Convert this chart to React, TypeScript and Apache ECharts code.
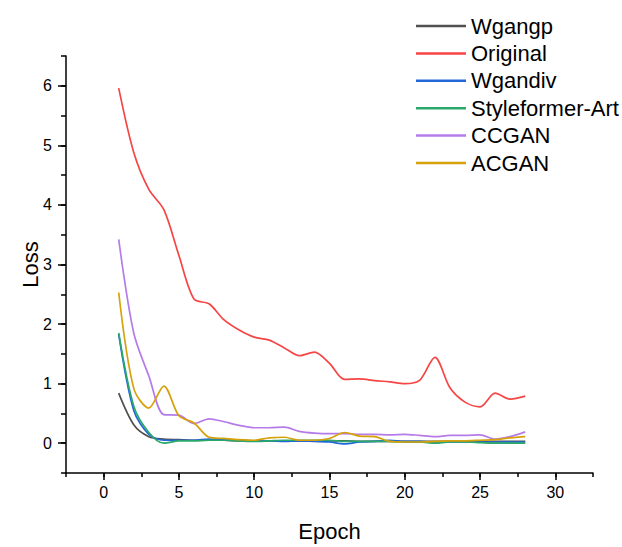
import React, { useEffect, useRef } from "react";
import * as echarts from "echarts";

const epochs = [1, 2, 3, 4, 5, 6, 7, 8, 9, 10, 11, 12, 13, 14, 15, 16, 17, 18, 19, 20, 21, 22, 23, 24, 25, 26, 27, 28];

const seriesNames = ["Wgangp", "Original", "Wgandiv", "Styleformer-Art", "CCGAN", "ACGAN"];
const seriesColors = ["#505050", "#f54545", "#2266d8", "#2aa86b", "#b57be8", "#d6a10a"];

const wgangp = [0.84, 0.31, 0.11, 0.07, 0.06, 0.05, 0.05, 0.05, 0.04, 0.04, 0.04, 0.04, 0.04, 0.04, 0.04, 0.04, 0.03, 0.03, 0.03, 0.03, 0.03, 0.03, 0.03, 0.03, 0.03, 0.03, 0.03, 0.03];
const original = [5.96, 4.88, 4.26, 3.92, 3.15, 2.42, 2.34, 2.07, 1.9, 1.78, 1.73, 1.6, 1.47, 1.53, 1.34, 1.07, 1.08, 1.05, 1.03, 1.0, 1.06, 1.44, 0.93, 0.69, 0.61, 0.84, 0.74, 0.79];
const wgandiv = [1.83, 0.55, 0.15, 0.05, 0.05, 0.05, 0.07, 0.06, 0.05, 0.04, 0.04, 0.03, 0.04, 0.03, 0.02, -0.01, 0.02, 0.03, 0.05, 0.03, 0.03, 0.02, 0.02, 0.02, 0.02, 0.02, 0.02, 0.02];
const styleformer = [1.85, 0.62, 0.18, 0.0, 0.04, 0.04, 0.05, 0.05, 0.04, 0.03, 0.04, 0.05, 0.05, 0.05, 0.05, 0.03, 0.03, 0.03, 0.03, 0.02, 0.02, 0.0, 0.02, 0.02, 0.01, 0.0, 0.0, 0.0];
const ccgan = [3.42, 1.85, 1.13, 0.48, 0.47, 0.33, 0.41, 0.36, 0.3, 0.26, 0.26, 0.27, 0.2, 0.17, 0.16, 0.16, 0.15, 0.15, 0.14, 0.15, 0.13, 0.11, 0.13, 0.13, 0.14, 0.07, 0.11, 0.19];
const acgan = [2.53, 0.92, 0.59, 0.96, 0.46, 0.34, 0.1, 0.08, 0.06, 0.05, 0.09, 0.1, 0.05, 0.05, 0.08, 0.18, 0.12, 0.11, 0.03, 0.02, 0.02, 0.03, 0.04, 0.04, 0.05, 0.06, 0.09, 0.11];

const xMajorTicks = [0, 5, 10, 15, 20, 25, 30];
const yMajorTicks = [0, 1, 2, 3, 4, 5, 6];

const FONT = "'Liberation Sans', Arial, sans-serif";

export default function App() {
  const ref = useRef<HTMLDivElement>(null);

  useEffect(() => {
    document.body.style.margin = "0";
    if (!ref.current) return;
    const chart = echarts.init(ref.current, null, { renderer: "svg" });
    const allValues = [wgangp, original, wgandiv, styleformer, ccgan, acgan];

    const axisLine = { show: true, onZero: false, lineStyle: { color: "#000", width: 1.5 } };

    const option: any = {
      animation: false,
      backgroundColor: "#fff",
      textStyle: { fontFamily: FONT },
      grid: { left: 66, right: 29, top: 56, bottom: 66, containLabel: false },
      legend: {
        orient: "vertical",
        left: 411,
        top: 10,
        itemWidth: 50,
        itemHeight: 2.5,
        itemGap: 5.4,
        icon: "rect",
        data: seriesNames,
        textStyle: { fontSize: 22, color: "#000", fontFamily: FONT },
      },
      xAxis: [
        {
          type: "value",
          min: -2.5,
          max: 32.5,
          interval: 2.5,
          position: "bottom",
          axisLine,
          axisTick: { show: true, inside: false, length: 4, lineStyle: { color: "#000", width: 1.5 } },
          axisLabel: {
            margin: 11,
            fontSize: 16,
            color: "#000",
            fontFamily: FONT,
            formatter: (v: number) => (Math.abs(v % 5) < 1e-9 ? String(v) : ""),
          },
          splitLine: { show: false },
          name: "Epoch",
          nameLocation: "middle",
          nameGap: 47,
          nameMoveOverlap: false,
          nameTextStyle: { fontSize: 22, color: "#000", fontFamily: FONT },
        },
        {
          type: "value",
          min: -2.5,
          max: 32.5,
          interval: 2.5,
          position: "bottom",
          axisLine: { show: false, onZero: false },
          axisTick: { show: true, length: 7, customValues: xMajorTicks, lineStyle: { color: "#000", width: 1.5 } },
          axisLabel: { show: false },
          splitLine: { show: false },
        },
      ],
      yAxis: [
        {
          type: "value",
          min: -0.5,
          max: 6.5,
          interval: 0.5,
          position: "left",
          axisLine,
          axisTick: { show: true, inside: false, length: 5, lineStyle: { color: "#000", width: 1.5 } },
          axisLabel: {
            margin: 14,
            fontSize: 16,
            color: "#000",
            fontFamily: FONT,
            formatter: (v: number) => (Math.abs(v % 1) < 1e-9 ? String(v) : ""),
          },
          splitLine: { show: false },
          name: "Loss",
          nameLocation: "middle",
          nameGap: 25,
          nameMoveOverlap: false,
          nameRotate: 90,
          nameTextStyle: { fontSize: 22, color: "#000", fontFamily: FONT },
        },
        {
          type: "value",
          min: -0.5,
          max: 6.5,
          interval: 0.5,
          position: "left",
          axisLine: { show: false, onZero: false },
          axisTick: { show: true, length: 8, customValues: yMajorTicks, lineStyle: { color: "#000", width: 1.5 } },
          axisLabel: { show: false },
          splitLine: { show: false },
        },
      ],
      series: seriesNames.map((name, i) => ({
        name,
        type: "line",
        xAxisIndex: 0,
        yAxisIndex: 0,
        smooth: 0.3,
        symbol: "none",
        showSymbol: false,
        color: seriesColors[i],
        lineStyle: { width: 1.7, color: seriesColors[i] },
        data: epochs.map((e, j) => [e, allValues[i][j]]),
      })),
    };

    chart.setOption(option);
    return () => chart.dispose();
  }, []);

  return <div ref={ref} style={{ width: 622, height: 547 }} />;
}
